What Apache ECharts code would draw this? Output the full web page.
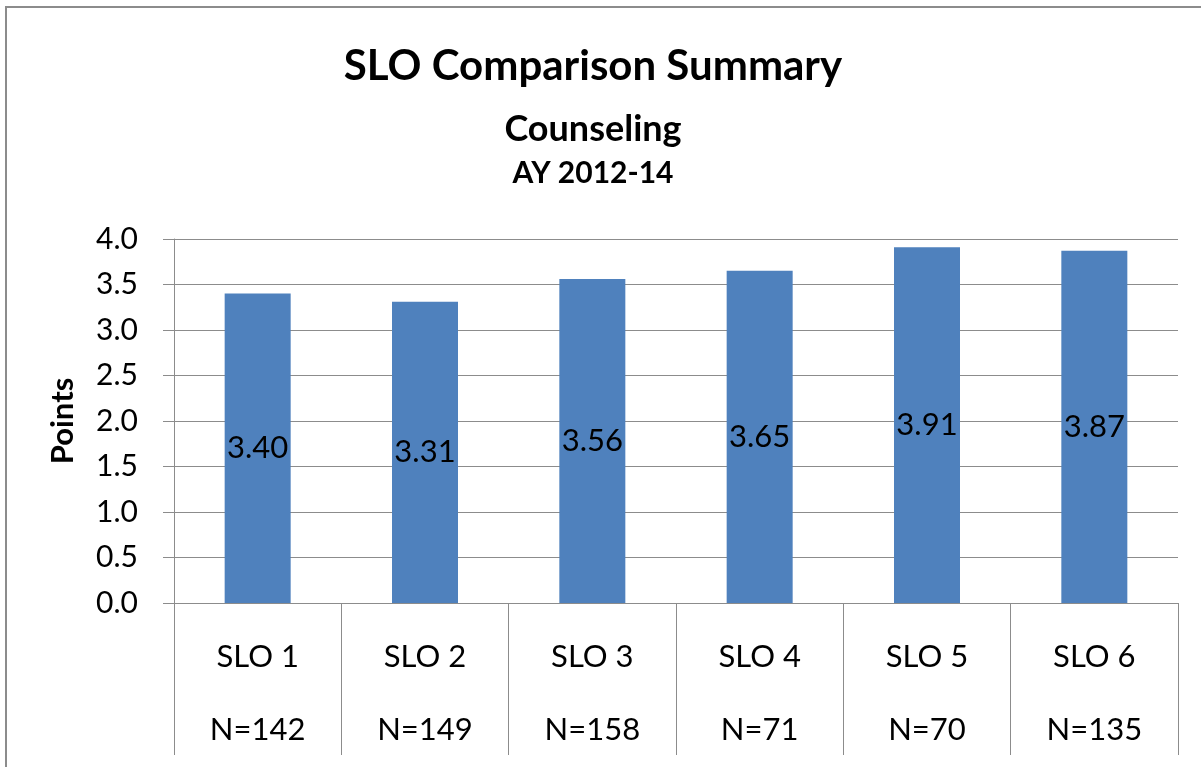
<!DOCTYPE html>
<html>
<head>
<meta charset="utf-8">
<script src="https://cdn.jsdelivr.net/npm/echarts@6/dist/echarts.min.js"></script>
<style>
  html, body { margin: 0; padding: 0; background: #fff; }
  #slo-chart { width: 1201px; height: 767px; }
</style>
</head>
<body>
<!-- chart container -->
<div id="slo-chart"></div>
<script>
// data
const categories = ['SLO 1', 'SLO 2', 'SLO 3', 'SLO 4', 'SLO 5', 'SLO 6']
const nCounts = [142, 149, 158, 71, 70, 135]
const points = [3.40, 3.31, 3.56, 3.65, 3.91, 3.87]
const yMin = 0
const yMax = 4
const yStep = 0.5

const FONT = 'Lato'
const GRAY = '#8c8c8c'

const chart = echarts.init(document.getElementById('slo-chart'))

const option = {
  backgroundColor: '#fff',
  animation: false,
  textStyle: { fontFamily: FONT },
  title: [
    {
      text: 'SLO Comparison Summary',
      left: 588, top: 40, textAlign: 'center',
      textStyle: { fontFamily: FONT, fontWeight: 'bold', fontSize: 42, color: '#000' }
    },
    {
      text: 'Counseling',
      left: 588, top: 106, textAlign: 'center',
      textStyle: { fontFamily: FONT, fontWeight: 'bold', fontSize: 36, color: '#000' }
    },
    {
      text: 'AY 2012-14',
      left: 588, top: 153, textAlign: 'center',
      textStyle: { fontFamily: FONT, fontWeight: 'bold', fontSize: 30, color: '#000' }
    }
  ],
  // outer chart frame
  graphic: [
    {
      type: 'rect',
      shape: { x: 6, y: 7, width: 1300, height: 1000 },
      style: { fill: 'none', stroke: GRAY, lineWidth: 2 },
      silent: true
    }
  ],
  grid: { left: 174, right: 23, top: 239, bottom: 164 },
  xAxis: {
    type: 'category',
    data: categories,
    axisLine: { show: true, lineStyle: { color: GRAY, width: 1 } },
    axisTick: { show: true, length: 152, lineStyle: { color: GRAY, width: 1 } },
    axisLabel: {
      margin: 17,
      formatter: function (value, idx) {
        return '{a|' + value + '}\n{a|N=' + nCounts[idx] + '}'
      },
      rich: {
        a: { fontFamily: FONT, fontSize: 31, lineHeight: 73, color: '#000' }
      }
    }
  },
  yAxis: {
    type: 'value',
    min: yMin,
    max: yMax,
    interval: yStep,
    name: 'Points',
    nameLocation: 'middle',
    nameRotate: 90,
    nameGap: 96,
    nameTextStyle: { fontFamily: FONT, fontWeight: 'bold', fontSize: 31, color: '#000' },
    axisLine: { show: true, lineStyle: { color: GRAY, width: 1 } },
    axisTick: { show: true, length: 11, lineStyle: { color: GRAY } },
    axisLabel: {
      margin: 36,
      fontFamily: FONT,
      fontSize: 30,
      color: '#000',
      formatter: v => v.toFixed(1)
    },
    splitLine: { show: true, lineStyle: { color: GRAY, width: 1 } }
  },
  series: [
    {
      type: 'bar',
      data: points,
      barWidth: 66,
      itemStyle: { color: '#4f81bd' },
      label: {
        show: true,
        position: 'inside',
        fontFamily: FONT,
        fontSize: 31,
        color: '#000',
        formatter: p => p.value.toFixed(2)
      }
    }
  ]
}

chart.setOption(option)
</script>
</body>
</html>
